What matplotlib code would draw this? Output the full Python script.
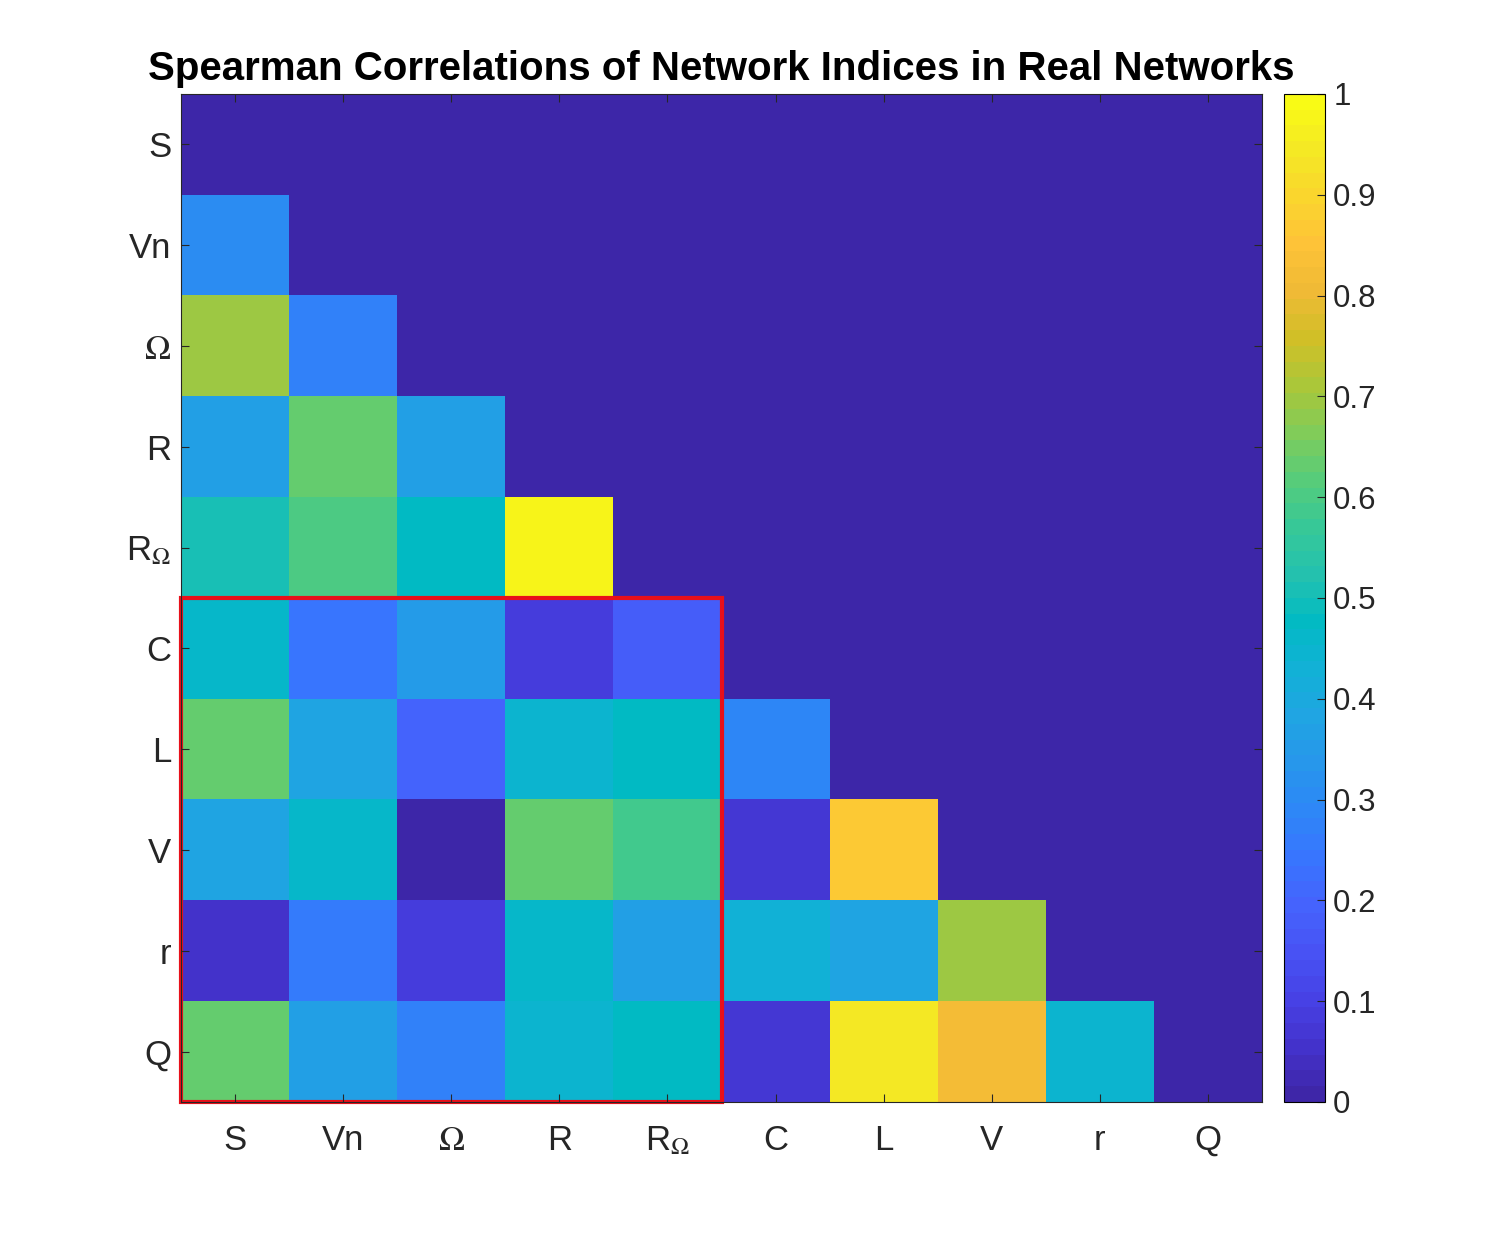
import numpy as np
import matplotlib
matplotlib.use('Agg')
import matplotlib.pyplot as plt
from matplotlib.colors import LinearSegmentedColormap
from matplotlib.patches import Rectangle

plt.rcParams['font.family'] = ['Liberation Sans', 'DejaVu Sans']
plt.rcParams['mathtext.fontset'] = 'stix'

labels = ['S', 'Vn', r'$\Omega$', 'R', r'R$_{\Omega}$', 'C', 'L', 'V', 'r', 'Q']

# lower triangle of the correlation matrix, one list per row
row_Vn = [0.30]
row_Om = [0.69, 0.28]
row_R = [0.37, 0.63, 0.37]
row_ROm = [0.50, 0.60, 0.48, 0.97]
row_C = [0.46, 0.24, 0.35, 0.09, 0.18]
row_L = [0.64, 0.38, 0.19, 0.45, 0.48, 0.29]
row_V = [0.38, 0.46, 0.01, 0.63, 0.59, 0.07, 0.86]
row_r = [0.06, 0.26, 0.09, 0.46, 0.36, 0.43, 0.39, 0.69]
row_Q = [0.64, 0.36, 0.27, 0.44, 0.48, 0.07, 0.95, 0.82, 0.45]

rows = [[], row_Vn, row_Om, row_R, row_ROm, row_C, row_L, row_V, row_r, row_Q]
n = len(labels)
M = np.zeros((n, n))
for i, r in enumerate(rows):
    M[i, :len(r)] = r

# parula approximation (MATLAB default)
parula_pts = [
    (0.2422, 0.1504, 0.6603), (0.2647, 0.1978, 0.7952), (0.2783, 0.2559, 0.8991),
    (0.2810, 0.3228, 0.9579), (0.2699, 0.3892, 0.9906), (0.2206, 0.4603, 0.9973),
    (0.1786, 0.5289, 0.9682), (0.1540, 0.5902, 0.9218), (0.1248, 0.6459, 0.8883),
    (0.0689, 0.6948, 0.8394), (0.0067, 0.7312, 0.7660), (0.1408, 0.7584, 0.6842),
    (0.2161, 0.7843, 0.5923), (0.3406, 0.8008, 0.4789), (0.5044, 0.7993, 0.3480),
    (0.6720, 0.7793, 0.2227), (0.8203, 0.7498, 0.1535), (0.9393, 0.7288, 0.2100),
    (0.9970, 0.7659, 0.2199), (0.9786, 0.8386, 0.1766), (0.9597, 0.9135, 0.1423),
    (0.9769, 0.9839, 0.0805)]
parula = LinearSegmentedColormap.from_list('parula', parula_pts, N=64)

fig = plt.figure(figsize=(14.94, 12.38), dpi=100)
ax = fig.add_axes([0.1212, 0.1099, 0.7235, 0.8142])
im = ax.imshow(M, cmap=parula, vmin=0, vmax=1, aspect='auto', interpolation='nearest')

ax.set_xticks(range(n))
ax.set_yticks(range(n))
ax.set_xticklabels(labels)
ax.set_yticklabels(labels)
ax.tick_params(direction='in', length=6, width=0.8, labelsize=25, colors='#262626',
               top=True, right=True)
ax.tick_params(axis='x', pad=16)
ax.tick_params(axis='y', pad=7)
for s in ax.spines.values():
    s.set_linewidth(0.8)
    s.set_color('#262626')
ax.set_title('Spearman Correlations of Network Indices in Real Networks',
             fontsize=29, fontweight='bold', pad=10)

ax.add_patch(Rectangle((-0.5, 4.5), 5, 5, fill=False, edgecolor='#e8101a',
                       linewidth=3, clip_on=False))

cax = fig.add_axes([0.8594, 0.1099, 0.0274, 0.8142])
cb = fig.colorbar(im, cax=cax, ticks=np.arange(0, 1.01, 0.1))
cb.set_ticklabels(['0', '0.1', '0.2', '0.3', '0.4', '0.5', '0.6', '0.7', '0.8', '0.9', '1'])
cb.ax.tick_params(direction='in', length=6, width=0.8, labelsize=22.5, colors='#262626', pad=6)
cb.outline.set_linewidth(0.8)

fig.savefig('out.png', dpi=100)
